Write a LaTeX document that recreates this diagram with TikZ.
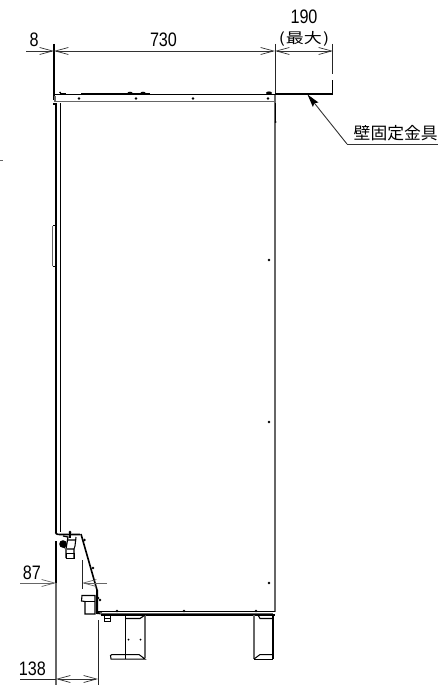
\documentclass[tikz,border=0pt]{standalone}
\usepackage{fontspec}
\setmainfont{Liberation Sans}
\newfontfamily\cjk{Noto Sans CJK JP}
\usetikzlibrary{arrows.meta}
\definecolor{graya}{gray}{0.4}
\tikzset{
  x=1pt,y=-1pt,
  barb/.tip={Straight Barb[length=13pt,width=7pt,line width=0.7pt]},
  dimline/.style={line width=0.8pt,black!80,{barb}-{barb}},
  oneend/.style={line width=0.8pt,black!80,-{barb}},
  ext/.style={line width=0.8pt,black!85},
  heavy/.style={line width=2pt,black},
  soft/.style={line width=1.2pt,graya},
  numtxt/.style={inner sep=0pt,font=\fontsize{19.5}{20}\selectfont},
  jptxt/.style={inner sep=0pt,anchor=west,font=\fontsize{16.8}{18}\selectfont\cjk},
  dot/.style={circle,fill=black,inner sep=0pt,minimum size=2.8pt}
}
\begin{document}
\begin{tikzpicture}
\useasboundingbox[fill=white] (0,0) rectangle (438,685);
\clip (0,0) rectangle (438,685);
% stray tick
\draw[soft] (0,160.5) -- (2.5,160.5);
% extension lines, top
\draw[heavy] (54,44) -- (54,100);
\draw[ext] (275,44) -- (275,94);
\draw[ext] (332.5,44) -- (332.5,74);
\draw[line width=1.4pt] (332.5,80) -- (332.5,94) -- (275,94);
% top dimensions
\coordinate (t0) at (26,51);
\coordinate (t1) at (54,51);
\coordinate (t2) at (275,51);
\coordinate (t3) at (333,51);
\draw[oneend] (t0) -- (t1);
\draw[dimline] (t1) -- (t2);
\draw[dimline] (t2) -- (t3);
\node[numtxt] (n8) at (34,40) {\scalebox{0.83}[1]{8}};
\node[numtxt] (n730) at (163.5,40) {\scalebox{0.83}[1]{730}};
\node[numtxt] (n190) at (304,17) {\scalebox{0.83}[1]{190}};
\node[inner sep=0pt,font=\fontsize{18}{18}\selectfont\cjk] (nmax) at (304,38.5) {\scalebox{1}[0.8]{(\kern1pt 最大\kern1pt)}};
% wall bracket label
\node[jptxt] (wall) at (353.5,133.5) {壁固定金具};
\coordinate (u0) at (347,144);
\coordinate (u1) at (438,144);
\coordinate (tip) at (307.5,94.5);
\draw[line width=0.9pt,black!80] (u1) -- (u0);
\draw[line width=0.9pt,black!80,-{Stealth[length=13pt,width=7pt,inset=2pt,black]}] (u0) -- (tip);
% top band
\draw[line width=1.3pt,black] (54,94.5) -- (275,94.5);
\draw[soft] (55,95.5) -- (55,101.5) -- (275,101.5) -- (275,95);
\fill (60,92.5) circle (1pt) (130,93) ellipse (2.5pt and 1.3pt) (143,93) ellipse (2.5pt and 1.3pt) (269,93) ellipse (3pt and 1.6pt);
\draw[line width=0.7pt] (60,93.5) -- (66,93.5) (81,93.5) -- (150,93.5);
\foreach \x/\n in {79/a,136/b,193/c,268/d} \node[dot] (s\n) at (\x,98.5) {};
% right side
\draw[soft] (275,101) -- (275,612);
\draw[line width=1.3pt] (275.5,103) -- (275.5,122);
\fill (275.5,122) circle (1pt);
% front panel
\draw[heavy] (56,103) -- (56,533);
\draw[line width=1.1pt] (60.5,103) -- (60.5,532);
\draw[line width=1.1pt] (53,104) -- (56,104);
% handle
\draw[line width=1.2pt,graya] (52.8,226) -- (52.8,266);
\draw[line width=1pt] (55.5,225.5) -- (52.5,225.5) (52.5,266) -- (55.5,266);
% right dots
\foreach \y/\n in {260/e,422/f,583/g} \node[dot] (r\n) at (269,\y) {};
% lower front
\draw[line width=1.6pt] (56,541) -- (56,583);
\draw[line width=1.6pt] (56,531) .. controls (55,534) and (57,534.5) .. (60,534.5) -- (80,534.5);
\draw[soft] (56,583) -- (56,685);
% slanted front
\draw[line width=1.6pt] (81,534) -- (97,590);
\draw[line width=2pt] (97,590) -- (97,613) -- (102,613.5);
\node[dot] at (84.5,540) {};
\node[dot] at (93,568) {};
\node[dot] at (100,600) {};
\node[dot] at (98,598) {};
% drain fitting
\fill (63,544) circle (3.8pt);
\draw[line width=1.2pt] (63,536) -- (68,537) -- (66,549) -- (66,558);
\draw[line width=1.1pt] (76,537) -- (75,546) -- (74,549) -- (74,558);
\fill (70,532) circle (1.5pt);
\draw[line width=1.2pt] (70,532) -- (70,538);
\draw[line width=1pt] (66,553) rectangle (74,558.5);
\draw[line width=1.2pt] (65,548) -- (62,546) (68,540) -- (76,540) (67,549) -- (74,549);
% drain box
\draw[line width=1.1pt] (85,595.5) -- (82,595.5) -- (81.5,601) -- (85,601.5) -- (85,614) -- (95,614) -- (95,595.5) -- cycle;
\draw[line width=1pt] (85,601.5) -- (95,601.5);
% bottom band
\draw[line width=1.4pt] (98,611.7) -- (275,611.7);
\draw[line width=1.4pt] (101,615) -- (275,615);
\draw[soft] (100,613.4) -- (273,613.4);
\foreach \x/\n in {117/h,184/i,256/j} \node[dot] (b\n) at (\x,611) {};
% small fitting under band
\draw[line width=1pt] (104,615) -- (104,621.5) -- (110.5,621.5) -- (110.5,615);
\draw[line width=1pt] (104,618) -- (110.5,618);
% left leg
\draw[line width=1.1pt] (125.5,615) -- (125.5,659);
\draw[soft] (145,615) -- (145,658);
\draw[line width=1.1pt] (125.5,618.5) -- (140,618.5) -- (145,615);
\draw[line width=1pt] (111,659) -- (110.5,655.5) -- (112,654.5) -- (139,654.5) -- (145,659) -- cycle;
\node[dot,minimum size=2pt] at (128.5,639.5) {};
\node[dot,minimum size=2pt] at (140.5,639.5) {};
% right leg
\draw[soft] (254,615) -- (254,659);
\draw[line width=1.1pt] (273,615) -- (273,659);
\draw[line width=1.1pt] (258,615) -- (260,618.5) -- (273,618.5);
\draw[line width=1pt] (254,659) -- (260,654.5) -- (273,654.5);
\draw[line width=1pt] (254,659) -- (273,659);
% dimension 87
\coordinate (d87a) at (20,583);
\coordinate (d87b) at (56,583);
\coordinate (d87c) at (82,583);
\coordinate (d87d) at (107,583);
\draw[oneend,graya] (d87a) -- (d87b);
\draw[oneend,graya,line width=1pt] (d87d) -- (d87c);
\draw[ext] (82,560) -- (82,589);
\node[numtxt] (n87) at (32,572.5) {\scalebox{0.83}[1]{87}};
% dimension 138
\coordinate (d138z) at (20,679);
\coordinate (d138a) at (56,679);
\coordinate (d138b) at (98,679);
\draw[ext] (98,620) -- (98,685);
\draw[ext] (d138z) -- (d138a);
\draw[dimline] (d138a) -- (d138b);
\node[numtxt] (n138) at (32.5,669) {\scalebox{0.83}[1]{138}};
\end{tikzpicture}
\end{document}
